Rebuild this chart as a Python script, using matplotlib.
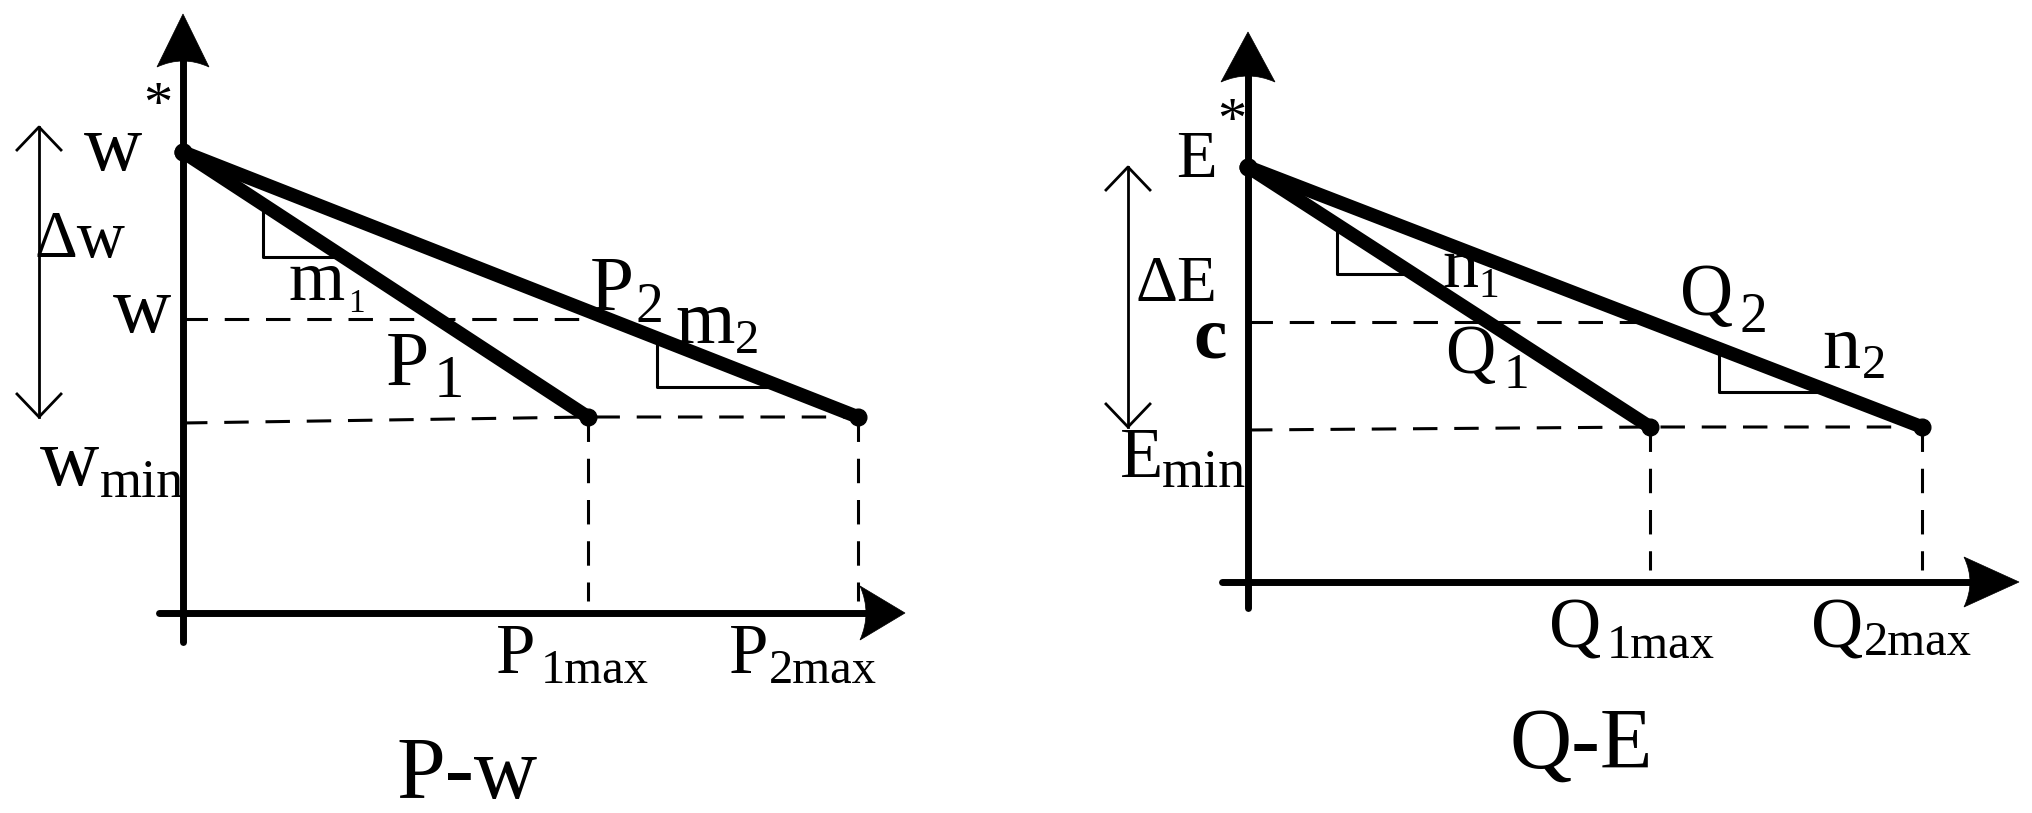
import matplotlib.pyplot as plt
from matplotlib.path import Path
from matplotlib.patches import PathPatch

plt.rcParams['font.family'] = ['Liberation Serif', 'DejaVu Serif']

W, H = 2032, 813

# P-w droop (units measured from the axis origin)
p_max = [405, 675]          # P1max, P2max
w_star = 461
w_op = 294
w_min = 196
w_min_axis = 190            # dashed w_min line starts a bit lower at the axis
m_tri = [(80, 160), (474, 599)]   # slope triangle spans on line 1 and line 2

# Q-E droop
q_max = [402, 674]          # Q1max, Q2max
e_star = 415
e_c = 260
e_min = 155
e_min_axis = 152
n_tri = [(89, 165), (471, 583)]


def head(ax, tip, d, length, hw, notch=12):
    # filled arrow head with a slightly concave back
    tx, ty = tip
    dx, dy = d
    px, py = -dy, dx
    bx, by = tx - dx * length, ty - dy * length
    verts = [(tx, ty), (bx + px * hw, by + py * hw),
             (bx + dx * notch, by + dy * notch), (bx - px * hw, by - py * hw),
             (tx, ty)]
    codes = [Path.MOVETO, Path.LINETO, Path.CURVE3, Path.CURVE3, Path.CLOSEPOLY]
    ax.add_patch(PathPatch(Path(verts, codes), fc='black', ec='black', lw=0.5, zorder=6))


def panel(ax, xmax, ystar, yop, ymin, ymin_axis, tris, xext, yext, xhead, yhead,
          dbl_x, dbl_top):
    # axes
    ax.plot([xext[0], xext[1] - 10], [0, 0], color='black', lw=5, solid_capstyle='round', zorder=6)
    ax.plot([0, 0], [yext[0], yext[1] - 10], color='black', lw=5, solid_capstyle='round', zorder=6)
    head(ax, (xext[1], 0), (1, 0), *xhead)
    head(ax, (0, yext[1]), (0, 1), *yhead)

    k = [(ystar - ymin) / x for x in xmax]
    # dashed guides
    dsh = dict(color='black', lw=2.2, ls=(0, (8, 5.5)), zorder=1)
    x_int = (ystar - yop) / k[1]
    ax.plot([0, x_int], [yop, yop], **dsh)
    ax.plot([0, xmax[0], xmax[1]], [ymin_axis, ymin, ymin], **dsh)
    for x in xmax:
        ax.plot([x, x], [ymin, 12], **dsh)

    # slope triangles
    for i, (a, b) in enumerate(tris):
        ya = ystar - k[i] * a
        yb = ystar - k[i] * b
        ax.plot([a, a, b], [ya, yb, yb], color='black', lw=2.2, zorder=2)

    # droop lines
    for x in xmax:
        ax.plot([0, x], [ystar, ymin], color='black', lw=9.8, solid_capstyle='round', zorder=5)
        ax.plot([0, x], [ystar, ymin], 'o', color='black', ms=12, zorder=5)

    # double arrow
    ax.plot([dbl_x, dbl_x], [ymin, dbl_top], color='black', lw=2, zorder=2)
    for yt, s in [(dbl_top, -1), (ymin, 1)]:
        ax.plot([dbl_x - 22, dbl_x, dbl_x + 22], [yt + s * 23, yt, yt + s * 23],
                color='black', lw=2, zorder=2)


fig = plt.figure(figsize=(W / 100, H / 100), dpi=100)

L = (183, 613)
R = (1248, 582)
axl = fig.add_axes([0, 0, 1, 1])
axl.set_xlim(-L[0], W - L[0])
axl.set_ylim(L[1] - H, L[1])
axr = fig.add_axes([0, 0, 1, 1])
axr.set_xlim(-R[0], W - R[0])
axr.set_ylim(R[1] - H, R[1])
for a in (axl, axr):
    a.axis('off')
    a.patch.set_alpha(0)

panel(axl, p_max, w_star, w_op, w_min, w_min_axis, m_tri,
      (-24, 722), (-29, 599), (45, 27), (53, 26), -144, w_star + 25)
panel(axr, q_max, e_star, e_c, e_min, e_min_axis, n_tri,
      (-26, 771), (-26, 550), (55, 25), (50, 27), -120, e_star)


def lab(ax, o, px, py, s, size, ha='center', va='baseline', **kw):
    ax.text(px - o[0], o[1] - py, s, fontsize=size, ha=ha, va=va, zorder=3, **kw)


# left labels
lab(axl, L, 113, 170, 'w', 58)
lab(axl, L, 158, 107, '*', 42, va='center')
lab(axl, L, 80, 257, '\u0394w', 48)
lab(axl, L, 142, 332, 'w', 58)
lab(axl, L, 317, 300, 'm', 52)
lab(axl, L, 348, 312, '1', 24, ha='left')
lab(axl, L, 407, 385, 'P', 56)
lab(axl, L, 434, 397, '1', 44, ha='left')
lab(axl, L, 612, 310, 'P', 57)
lab(axl, L, 635, 322, '2', 40, ha='left')
lab(axl, L, 705, 343, 'm', 55)
lab(axl, L, 735, 353, '2', 35, ha='left')
lab(axl, L, 516, 673, 'P', 51)
lab(axl, L, 541, 683, '1max', 35, ha='left')
lab(axl, L, 749, 673, 'P', 51)
lab(axl, L, 769, 683, '2max', 35, ha='left')
lab(axl, L, 70, 485, 'w', 59)
lab(axl, L, 100, 497, 'min', 39, ha='left')
lab(axl, L, 467, 798, 'P-w', 63)

# right labels
lab(axr, R, 1196, 177, 'E', 48)
lab(axr, R, 1232, 123, '*', 42, va='center')
lab(axr, R, 1176, 301, '\u0394E', 47)
lab(axr, R, 1210, 357, 'c', 54, fontweight='bold')
lab(axr, R, 1460, 287, 'n', 52)
lab(axr, R, 1478, 297, '1', 30, ha='left')
lab(axr, R, 1470, 373, 'Q', 50)
lab(axr, R, 1504, 388, '1', 37, ha='left')
lab(axr, R, 1707, 315, 'Q', 53)
lab(axr, R, 1740, 332, '2', 40, ha='left')
lab(axr, R, 1841, 368, 'n', 55)
lab(axr, R, 1862, 378, '2', 35, ha='left')
lab(axr, R, 1142, 477, 'E', 51)
lab(axr, R, 1162, 487, 'min', 39, ha='left')
lab(axr, R, 1575, 647, 'Q', 52)
lab(axr, R, 1607, 658, '1max', 35, ha='left')
lab(axr, R, 1837, 647, 'Q', 52)
lab(axr, R, 1864, 655, '2max', 35, ha='left')
lab(axr, R, 1581, 768, 'Q-E', 62)

fig.savefig('out.png', dpi=100, facecolor='white')
